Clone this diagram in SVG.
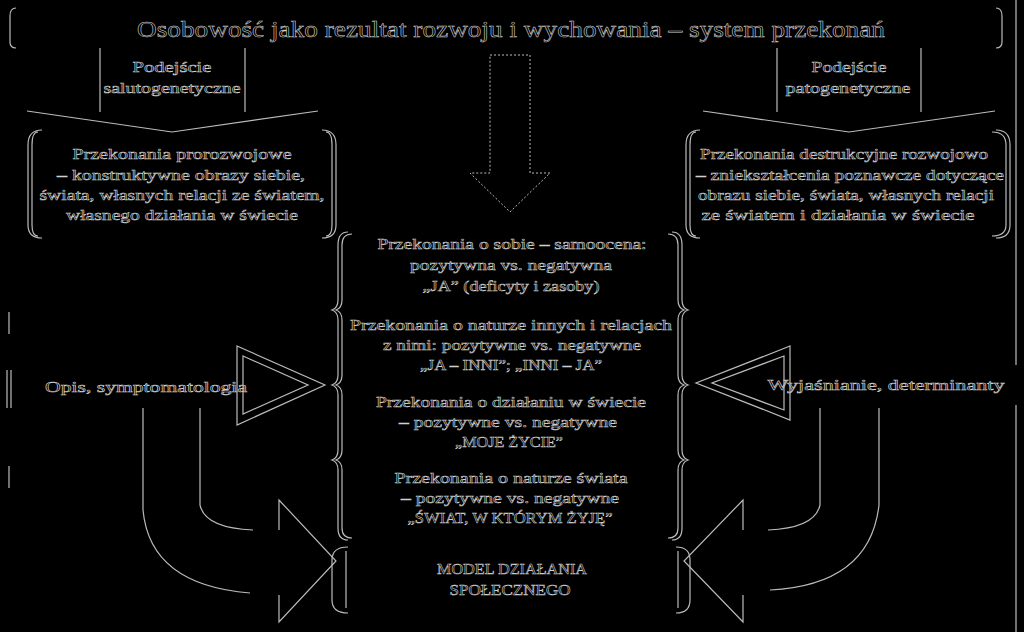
<svg xmlns="http://www.w3.org/2000/svg" width="1024" height="632" viewBox="0 0 1024 632">
<style>
text{font-family:"Liberation Serif",serif;fill:#000;stroke:#d0d0d0;stroke-width:0.55;text-anchor:middle}
.s{font-size:15.5px}
.l{fill:none;stroke:#bbb;stroke-width:1.2}
.d{fill:none;stroke:#bbb;stroke-width:1;stroke-dasharray:2 2}
</style>
<rect width="1024" height="632" fill="#000"/>
<g id="title">
<path class="l" d="M16,8 Q10,8 10,16 V42 Q10,48 16,48"/>
<path class="l" d="M996,8 Q1002,8 1002,16 V42 Q1002,48 996,48"/>
<text x="511" y="37" style="font-size:24px" textLength="748" lengthAdjust="spacingAndGlyphs">Osobowość jako rezultat rozwoju i wychowania – system przekonań</text>
</g>
<g id="saluto">
<path class="l" d="M100,48 V112 M245,48 V112"/>
<text class="s" x="172" y="72" textLength="79" lengthAdjust="spacingAndGlyphs">Podejście</text>
<text class="s" x="172" y="93" textLength="137" lengthAdjust="spacingAndGlyphs">salutogenetyczne</text>
</g>
<g id="pato">
<path class="l" d="M777,48 V112 M921,48 V112"/>
<text class="s" x="849" y="72" textLength="75" lengthAdjust="spacingAndGlyphs">Podejście</text>
<text class="s" x="848" y="93" textLength="125" lengthAdjust="spacingAndGlyphs">patogenetyczne</text>
</g>
<g id="leftbox">
<path class="l" d="M42,130 Q28,130 28,145 V225 Q28,238 42,238 M38,132 Q32,132 32,145 V225 Q32,236 38,236"/>
<path class="l" d="M322,130 Q336,130 336,145 V225 Q336,238 322,238 M326,132 Q332,132 332,145 V225 Q332,236 326,236"/>
<text class="s" x="182" y="159" textLength="219" lengthAdjust="spacingAndGlyphs">Przekonania prorozwojowe</text>
<text class="s" x="181" y="180" textLength="248" lengthAdjust="spacingAndGlyphs">– konstruktywne obrazy siebie,</text>
<text class="s" x="182" y="200" textLength="285" lengthAdjust="spacingAndGlyphs">świata, własnych relacji ze światem,</text>
<text class="s" x="182" y="220" textLength="232" lengthAdjust="spacingAndGlyphs">własnego działania w świecie</text>
</g>
<g id="rightbox">
<path class="l" d="M700,130 Q686,130 686,145 V225 Q686,238 700,238 M696,132 Q690,132 690,145 V225 Q690,236 696,236"/>
<path class="l" d="M996,130 Q1010,130 1010,145 V225 Q1010,238 996,238 M992,132 Q1006,132 1006,145 V225 Q1006,236 992,236"/>
<text class="s" x="844" y="159" textLength="288" lengthAdjust="spacingAndGlyphs">Przekonania destrukcyjne rozwojowo</text>
<text class="s" x="850" y="180" textLength="308" lengthAdjust="spacingAndGlyphs">– zniekształcenia poznawcze dotyczące</text>
<text class="s" x="846" y="200" textLength="296" lengthAdjust="spacingAndGlyphs">obrazu siebie, świata, własnych relacji</text>
<text class="s" x="838" y="220" textLength="273" lengthAdjust="spacingAndGlyphs">ze światem i działania w świecie</text>
</g>
<g id="center">
<path class="l" d="M348,232 Q338,232 338,245 V300 Q338,308 332,310 Q338,312 338,320 V375 Q338,383 332,385 Q338,387 338,395 V450 Q338,458 332,460 Q338,462 338,470 V528 Q338,540 348,540"/>
<path class="l" d="M352,234 Q342,234 342,245 V300 Q342,308 336,310 Q342,312 342,320 V375 Q342,383 336,385 Q342,387 342,395 V450 Q342,458 336,460 Q342,462 342,470 V528 Q342,538 352,538"/>
<path class="l" d="M672,232 Q682,232 682,245 V300 Q682,308 688,310 Q682,312 682,320 V375 Q682,383 688,385 Q682,387 682,395 V450 Q682,458 688,460 Q682,462 682,470 V528 Q682,540 672,540"/>
<path class="l" d="M668,234 Q678,234 678,245 V300 Q678,308 684,310 Q678,312 678,320 V375 Q678,383 684,385 Q678,387 678,395 V450 Q678,458 684,460 Q678,462 678,470 V528 Q678,538 668,538"/>
<text class="s" x="512" y="249" textLength="269" lengthAdjust="spacingAndGlyphs">Przekonania o sobie – samoocena:</text>
<text class="s" x="511" y="270" textLength="202" lengthAdjust="spacingAndGlyphs">pozytywna vs. negatywna</text>
<text class="s" x="511" y="291" textLength="177" lengthAdjust="spacingAndGlyphs">„JA” (deficyty i zasoby)</text>
<text class="s" x="511" y="330" textLength="322" lengthAdjust="spacingAndGlyphs">Przekonania o naturze innych i relacjach</text>
<text class="s" x="512" y="350" textLength="258" lengthAdjust="spacingAndGlyphs">z nimi: pozytywne vs. negatywne</text>
<text class="s" x="511" y="370" textLength="182" lengthAdjust="spacingAndGlyphs">„JA – INNI”; „INNI – JA”</text>
<text class="s" x="511" y="407" textLength="270" lengthAdjust="spacingAndGlyphs">Przekonania o działaniu w świecie</text>
<text class="s" x="508" y="427" textLength="218" lengthAdjust="spacingAndGlyphs">– pozytywne vs. negatywne</text>
<text class="s" x="509" y="447" textLength="108" lengthAdjust="spacingAndGlyphs">„MOJE ŻYCIE”</text>
<text class="s" x="511" y="483" textLength="233" lengthAdjust="spacingAndGlyphs">Przekonania o naturze świata</text>
<text class="s" x="510" y="503" textLength="218" lengthAdjust="spacingAndGlyphs">– pozytywne vs. negatywne</text>
<text class="s" x="510" y="523" textLength="205" lengthAdjust="spacingAndGlyphs">„ŚWIAT, W KTÓRYM ŻYJĘ”</text>
</g>
<g id="model">
<path class="l" d="M348,547 Q332,547 332,560 V600 Q332,613 348,613 M346,551 V608"/>
<path class="l" d="M676,547 Q690,547 690,560 V600 Q690,613 676,613 M678,551 V608"/>
<text class="s" x="512" y="574" textLength="150" lengthAdjust="spacingAndGlyphs">MODEL DZIAŁANIA</text>
<text class="s" x="510" y="595" textLength="121" lengthAdjust="spacingAndGlyphs">SPOŁECZNEGO</text>
</g>
<g id="opis">
<text class="s" x="146" y="392" textLength="202" lengthAdjust="spacingAndGlyphs">Opis, symptomatologia</text>
</g>
<g id="wyj">
<text class="s" x="886" y="390" textLength="237" lengthAdjust="spacingAndGlyphs">Wyjaśnianie, determinanty</text>
</g>
<g id="sides">
<path class="l" d="M9,312 V334 M7,370 V408 M11,370 V408 M9,466 V488 M1016,0 V365 M1016,405 V632"/>
</g>
<g id="connectors">
<path class="l" d="M27,111 L172,132 L318,111"/>
<path class="l" d="M703,111 L849,132 L995,111"/>
<path class="d" d="M490,55 H530 V173 H550 L510,212 L470,173 H490 Z"/>
<path class="l" d="M237,346 L325,385 L237,425 Z M243,356 L308,385 L243,414 Z"/>
<path class="l" d="M790,346 L696,383 L790,420 Z M784,356 L712,383 L784,410 Z"/>
<path class="l" d="M143,408 V510 Q150,585 250,593 M200,408 V505 Q205,528 253,530"/>
<path class="l" d="M279,530 V500 L336,561 L279,622 V595"/>
<path class="l" d="M879,408 V505 Q870,585 770,590 M820,408 V505 Q815,528 768,530"/>
<path class="l" d="M743,530 V500 L684,561 L743,622 V595"/>
</g>
</svg>
